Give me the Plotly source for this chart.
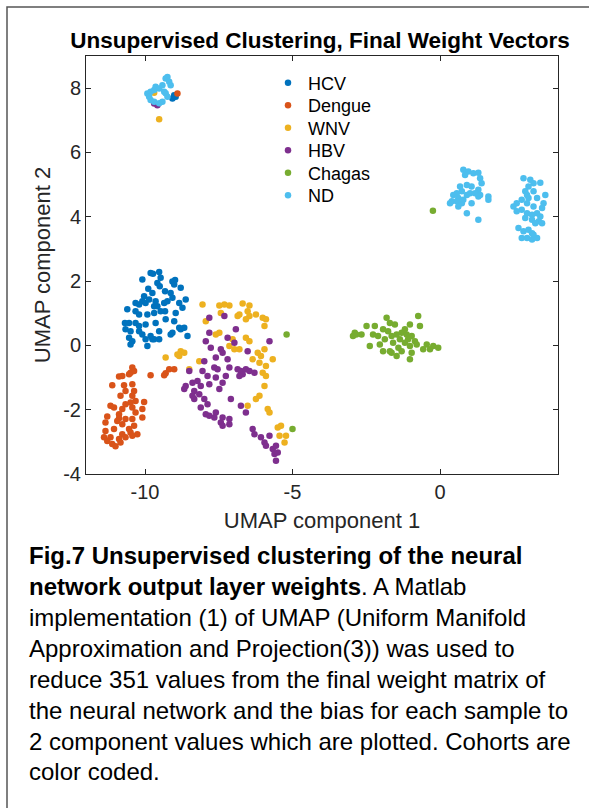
import plotly.graph_objects as go

# ---------------- data ----------------
hcv_x = [-9.81, -9.73, -9.52, -10.09, -9.47, -9.58, -9.07, -8.98, -9.01, -9.89, -9.50, -9.32, -9.13, -8.79,
         -9.75, -10.03, -10.09, -9.98, -9.69, -9.58, -9.35, -9.24, -9.07, -8.84, -8.62, -10.32, -10.60, -10.32,
         -10.20, -9.92, -9.69, -9.47, -9.32, -8.96, -8.73, -10.54, -10.68, -10.32, -9.98, -9.64, -9.30, -9.01,
         -8.79, -8.67, -10.49, -10.20, -10.09, -9.81, -9.75, -9.52, -9.13, -9.07, -8.84, -8.56, -10.54, -10.43,
         -10.49, -9.98, -9.92, -9.69, -9.52, -10.20, -9.86, -9.64, -10.20, -10.66,
         -9.01, -9.07, -8.96]
hcv_y = [2.25, 2.23, 2.28, 2.05, 2.10, 1.94, 1.99, 2.03, 1.89, 1.76, 1.84, 1.68, 1.63, 1.79,
         1.63, 1.53, 1.37, 1.32, 1.22, 1.22, 1.32, 1.37, 1.48, 1.32, 1.43, 1.32, 1.12, 1.06,
         0.96, 0.96, 1.01, 1.06, 1.06, 1.01, 1.17, 0.70, 0.70, 0.70, 0.65, 0.70, 0.81, 0.75,
         0.50, 0.55, 0.44, 0.44, 0.34, 0.29, 0.19, 0.44, 0.34, 0.39, 0.55, 0.29, 0.24, 0.13,
         0.03, 0.19, -0.02, 0.19, 0.19, 0.60, 1.43, 1.37, 1.27, 0.50,
         7.78, 7.68, 7.73]

dengue_x = [-10.49, -10.37, -10.54, -10.77, -10.88, -9.81, -9.30, -9.18, -9.35, -11.11, -10.71, -10.43,
            -10.66, -10.37, -10.43, -10.83, -10.03, -10.32, -10.49, -10.66, -11.17, -11.05, -10.77, -10.43,
            -10.09, -10.32, -10.88, -11.28, -10.88, -10.66, -10.43, -10.09, -10.94, -11.34, -10.77, -10.37,
            -10.54, -11.05, -11.34, -10.49, -10.77, -10.26, -11.39, -11.17, -10.88, -10.66, -11.28, -11.11,
            -11.00, -10.83, -10.43, -10.43, -9.01, -8.90]
dengue_y = [-0.85, -0.80, -0.90, -0.95, -0.97, -0.93, -0.87, -0.74, -0.93, -1.24, -1.24, -1.21,
            -1.42, -1.42, -1.57, -1.57, -1.76, -1.73, -1.78, -1.83, -1.88, -1.93, -1.98, -1.93,
            -1.98, -2.09, -2.14, -2.21, -2.27, -2.29, -2.29, -2.24, -2.35, -2.40, -2.45, -2.50,
            -2.60, -2.60, -2.66, -2.71, -2.76, -2.76, -2.86, -2.86, -2.91, -2.86, -2.97, -3.07,
            -3.14, -3.02, -2.81, -0.69, -0.74, 7.83]

wnv_x = [-8.05, -7.48, -7.31, -7.14, -6.69, -6.46, -6.52, -6.80, -6.86, -6.46, -6.58, -6.24, -7.43, -6.01,
         -5.90, -5.95, -7.94, -7.48, -7.60, -6.58, -6.46, -7.14, -6.97, -6.80, -7.03, -6.18, -6.07, -6.12,
         -5.67, -5.90, -6.01, -5.90, -6.35, -8.79, -8.67, -9.30, -8.84, -8.16, -8.50, -5.95, -6.12, -6.24,
         -6.52, -5.84, -5.78, -5.50, -5.39, -5.44, -5.22, -5.27, -5.95, -8.90,
         -9.69, -9.52]
wnv_y = [1.27, 1.24, 1.27, 1.24, 1.30, 1.24, 1.06, 0.96, 0.91, 0.91, 0.81, 0.96, 1.01, 0.86,
         0.81, 0.60, 0.75, 0.39, 0.34, 0.24, 0.13, -0.02, -0.12, -0.12, 0.19, -0.23, -0.33, -0.54,
         -0.43, -0.64, -0.85, -0.95, -0.43, -0.18, -0.23, -0.38, -0.33, -0.49, -0.74, -1.26, -1.57, -1.67,
         -1.88, -1.98, -2.09, -2.55, -2.50, -2.81, -2.81, -3.02, -0.12, -0.28,
         7.86, 7.03]

hbv_x = [-7.82, -7.31, -6.92, -7.82, -7.94, -7.20, -6.97, -7.77, -7.43, -7.37, -6.52, -5.78, -7.99, -7.60,
         -7.20, -7.65, -7.54, -8.05, -8.50, -7.14, -6.86, -6.75, -6.69, -6.58, -6.46, -6.29, -6.80, -7.26,
         -7.60, -7.88, -8.22, -8.39, -8.62, -8.67, -8.11, -7.82, -7.37, -7.48, -8.33, -8.39, -8.16, -7.99,
         -8.33, -7.88, -8.11, -7.82, -7.94, -7.60, -7.65, -7.37, -7.14, -7.43, -7.14, -7.37, -7.09, -6.75,
         -6.58, -6.35, -6.29, -6.07, -5.95, -5.78, -5.67, -5.56, -5.61, -5.50, -5.90, -5.56,
         -9.69, -9.58]
hbv_y = [0.86, 0.91, 0.50, 0.39, 0.13, 0.24, 0.08, -0.07, -0.12, -0.23, -0.18, 0.13, -0.49, -0.38,
         -0.43, -0.69, -0.74, -0.80, -0.80, -0.69, -0.74, -0.80, -0.90, -0.74, -0.80, -0.85, -0.95, -0.95,
         -1.00, -0.95, -1.11, -1.16, -1.26, -1.36, -1.26, -1.21, -1.16, -1.36, -1.42, -1.57, -1.52, -1.67,
         -1.67, -1.83, -1.93, -2.19, -2.14, -2.09, -2.24, -2.24, -2.29, -2.40, -2.45, -2.50, -1.67, -1.88,
         -2.09, -2.60, -2.76, -2.86, -3.02, -2.81, -3.22, -3.12, -3.38, -3.33, -3.12, -3.59,
         7.52, 7.47]

chagas_x = [-1.81, -0.74, -1.70, -1.53, -2.21, -2.49, -1.02, -0.68, -1.93, -1.76, -2.89, -2.66, -2.27, -2.10,
            -1.64, -1.47, -1.30, -1.13, -0.96, -1.87, -1.36, -1.08, -0.85, -2.38, -2.04, -1.59, -1.19, -0.79,
            -0.45, -0.23, -0.06, -1.70, -1.41, -1.02, -0.57, -0.34, -1.93, -1.64, -1.30, -0.96, -1.47, -1.02,
            -2.95, -2.84, -1.19, -5.20, -5.00, -0.24]
chagas_y = [0.86, 0.91, 0.70, 0.65, 0.60, 0.60, 0.65, 0.60, 0.50, 0.44, 0.39, 0.34, 0.34, 0.29,
            0.29, 0.34, 0.39, 0.34, 0.29, 0.19, 0.19, 0.19, 0.13, -0.02, 0.03, 0.08, 0.08, 0.03,
            0.03, -0.02, -0.07, -0.18, -0.07, -0.02, -0.12, -0.12, -0.18, -0.23, -0.18, -0.23, -0.33, -0.43,
            0.29, 0.34, 0.50, 0.34, -2.60, 4.19]

nd_x = [0.79, 0.96, 1.13, 1.30, 0.85, 1.36, 1.41, 0.91, 1.07, 1.30, 0.74, 0.57, 0.45, 0.91, 1.19, 1.36,
        1.64, 0.62, 0.40, 0.34, 0.57, 0.74, 0.79, 1.07, 1.30, 1.64, 0.62, 0.91, 1.30, 1.02, 0.68,
        2.83, 3.06, 3.17, 3.40, 3.00, 2.89, 3.17, 2.95, 3.00, 3.57, 3.29, 2.77, 3.51, 2.60, 2.49, 2.95,
        3.17, 3.46, 2.77, 2.95, 3.12, 3.29, 2.60, 3.40, 2.89, 3.12, 3.35, 3.46, 3.23, 2.66, 2.83, 3.00,
        3.12, 2.77, 2.95, 3.12, 3.29, 3.17,
        -9.92, -9.81, -9.69, -9.64, -9.52, -9.41, -9.30, -9.24, -9.18, -9.13, -9.35, -9.30, -9.24, -9.81,
        -9.69, -9.52, -9.41, -9.86]
nd_y = [5.46, 5.41, 5.35, 5.37, 5.30, 5.20, 5.04, 4.99, 4.94, 4.84, 4.79, 4.73, 4.68, 4.68, 4.73, 4.68,
        4.63, 4.58, 4.48, 4.42, 4.48, 4.42, 4.53, 4.42, 4.63, 4.53, 4.32, 4.11, 3.91, 4.73, 4.94,
        5.20, 5.15, 5.04, 5.06, 4.94, 4.79, 4.79, 4.68, 4.58, 4.68, 4.58, 4.53, 4.42, 4.42, 4.32, 4.42,
        4.32, 4.27, 4.22, 4.11, 4.06, 4.11, 4.17, 4.01, 3.96, 3.91, 3.86, 3.80, 3.80, 3.65, 3.55, 3.60,
        3.49, 3.34, 3.34, 3.29, 3.34, 3.44,
        7.83, 7.89, 7.94, 8.04, 7.99, 8.09, 8.30, 8.35, 8.20, 8.09, 7.89, 7.84, 7.73, 7.63,
        7.58, 7.53, 7.58, 7.73]

group_names = ["HCV", "Dengue", "WNV", "HBV", "Chagas", "ND"]
group_x = [hcv_x, dengue_x, wnv_x, hbv_x, chagas_x, nd_x]
group_y = [hcv_y, dengue_y, wnv_y, hbv_y, chagas_y, nd_y]
group_colors = ["#0072BD", "#D95319", "#EDB120", "#7E2F8E", "#77AC30", "#4DBEEE"]

x_ticks = [-10, -5, 0]
x_ticklabels = ["-10", "-5", "0"]
y_ticks = [-4, -2, 0, 2, 4, 6, 8]
y_ticklabels = ["-4", "-2", "0", "2", "4", "6", "8"]

title_text = "<b>Unsupervised Clustering, Final Weight Vectors</b>"
x_title = "UMAP component 1"
y_title = "UMAP component 2"
caption_lines = [
    "<b>Fig.7 Unsupervised clustering of the neural</b>",
    "<b>network output layer weights</b>. A Matlab",
    "implementation (1) of UMAP (Uniform Manifold",
    "Approximation and Projection(3)) was used to",
    "reduce 351 values from the final weight matrix of",
    "the neural network and the bias for each sample to",
    "2 component values which are plotted. Cohorts are",
    "color coded.",
]

# ---------------- layout geometry (pixels) ----------------
W, H = 589, 808
L, R, T, B = 86, 558, 56, 474
FONT = "Arial, Liberation Sans, Helvetica, sans-serif"
INK = "#262626"
LEGEND_ROW_CENTERS = [83, 105.5, 128, 150.5, 173, 195.5]


def px_x(p):
    return (p - L) / (R - L)


def px_y(p):
    return (B - p) / (B - T)


fig = go.Figure()
legend_keys = ["legend"] + ["legend%d" % i for i in range(2, 7)]
for name, xs, ys, col, lk in zip(group_names, group_x, group_y, group_colors, legend_keys):
    fig.add_trace(go.Scatter(x=xs, y=ys, mode="markers", name=name, legend=lk,
                             marker=dict(color=col, size=6.5, line=dict(width=0))))

axis_common = dict(showline=True, linecolor=INK, linewidth=1, mirror="ticks", ticks="inside",
                   ticklen=5, tickcolor=INK, showgrid=False, zeroline=False,
                   tickfont=dict(family=FONT, size=20, color=INK))

fig.update_layout(
    width=W, height=H, autosize=False,
    margin=dict(l=L, r=W - R, t=T, b=H - B, pad=0),
    paper_bgcolor="white", plot_bgcolor="white",
    font=dict(family=FONT, color=INK),
    title=dict(text=title_text, x=px_x(320), xref="paper", xanchor="center",
               y=1 - 40 / H, yref="container", yanchor="middle",
               font=dict(family=FONT, size=22.5, color="black")),
    xaxis=dict(range=[-12, 4], tickvals=x_ticks, ticktext=x_ticklabels,
               title=dict(text=x_title, font=dict(family=FONT, size=22, color=INK), standoff=10),
               **axis_common),
    yaxis=dict(range=[-4, 9], tickvals=y_ticks, ticktext=y_ticklabels,
               title=dict(text=y_title, font=dict(family=FONT, size=22, color=INK), standoff=6),
               **axis_common),
    showlegend=True,
)

# one single-entry legend per group so that rows sit as tightly as in the reference
for lk, cy in zip(legend_keys, LEGEND_ROW_CENTERS):
    fig.update_layout({lk: dict(x=px_x(268), y=px_y(cy), xanchor="left", yanchor="middle",
                                bgcolor="rgba(0,0,0,0)", borderwidth=0,
                                font=dict(family=FONT, size=18, color="black"))})

# outer frame of the figure card (left and top edges visible)
fig.add_shape(type="rect", xref="paper", yref="paper",
              x0=px_x(7), x1=px_x(610), y0=px_y(830), y1=px_y(7),
              line=dict(color="#555555", width=1.5), fillcolor="rgba(0,0,0,0)", layer="below")

line_centers = [555, 586, 617, 648, 679, 710, 741, 772]
for txt, cy in zip(caption_lines, line_centers):
    fig.add_annotation(text=txt, xref="paper", yref="paper", x=px_x(27), y=px_y(cy),
                       xanchor="left", yanchor="middle", showarrow=False,
                       font=dict(family=FONT, size=24, color="black"))

fig.write_html("out.html")
